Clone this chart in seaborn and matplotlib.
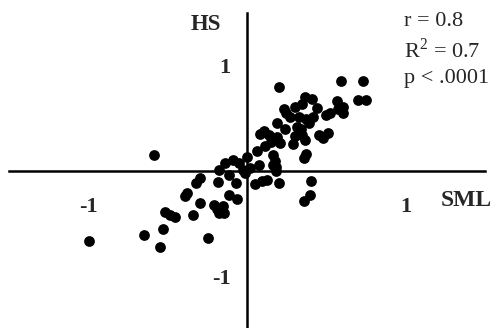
import matplotlib
matplotlib.use("Agg")
import matplotlib.pyplot as plt
import seaborn as sns
import pandas as pd

# values
sml = [-1.0, -0.588, -0.651, -0.548, -0.534, -0.517, -0.487, -0.458, -0.391, -0.378,
       -0.340, -0.324, -0.298, -0.298, -0.248, -0.210, -0.189, -0.181, -0.147, -0.155,
       -0.118, -0.067, -0.185, -0.181, -0.139, -0.118, -0.088, -0.055, -0.071, -0.029,
       -0.015, 0.0, 0.050, 0.059, 0.076, 0.080, 0.105, 0.113, 0.092, 0.122,
       0.134, 0.147, 0.160, 0.176, 0.181, 0.181, 0.197, 0.197, 0.185, 0.189,
       0.206, 0.239, 0.231, 0.244, 0.269, 0.290, 0.303, 0.298, 0.315, 0.324,
       0.336, 0.345, 0.345, 0.361, 0.370, 0.357, 0.357, 0.395, 0.403, 0.366,
       0.370, 0.391, 0.408, 0.412, 0.441, 0.454, 0.479, 0.508, 0.496, 0.521,
       0.563, 0.570, 0.605, 0.605, 0.592, 0.731, 0.698, 0.748, 0.017, 0.164]
hs = [-0.658, 0.152, -0.601, -0.722, -0.544, -0.386, -0.411, -0.430, -0.234, -0.203,
      -0.418, -0.108, -0.066, -0.297, -0.633, -0.316, -0.361, -0.399, -0.399, -0.329,
      -0.222, -0.259, -0.101, 0.013, 0.076, -0.032, 0.108, 0.076, -0.108, 0.013,
      -0.019, 0.139, -0.120, 0.196, 0.063, 0.354, 0.386, 0.241, -0.095, -0.082,
      0.345, 0.278, 0.158, 0.095, 0.038, 0.006, -0.108, 0.797, 0.462, 0.323,
      0.272, 0.399, 0.589, 0.551, 0.519, 0.259, 0.335, 0.608, 0.424, 0.519,
      0.399, 0.342, 0.639, 0.709, 0.165, 0.127, -0.278, -0.222, -0.095, 0.297,
      0.494, 0.456, 0.690, 0.513, 0.601, 0.342, 0.316, 0.367, 0.532, 0.557,
      0.665, 0.595, 0.614, 0.551, 0.854, 0.861, 0.677, 0.677, 0.028, 0.057]
tick_vals = [-1, 1]
tick_labels = ["-1", "1"]
stats_lines = ["r = 0.8", "R$^2$ = 0.7", "p < .0001"]

sns.set_style("white")
plt.rcParams['font.family'] = ['Liberation Serif', 'DejaVu Serif']
plt.rcParams['mathtext.fontset'] = 'custom'
plt.rcParams['mathtext.rm'] = 'Liberation Serif'

df = pd.DataFrame({'SML': sml, 'HS': hs})

fig = plt.figure(figsize=(4.95, 3.28), dpi=100)
ax = fig.add_axes([0.0187, 0.0027, 0.962, 0.957])
sns.scatterplot(data=df, x='SML', y='HS', color='black', s=60, linewidth=0, ax=ax, clip_on=False)

ax.set_xlim(-1.5, 1.5)
ax.set_ylim(-1.48, 1.5)
for side in ['top', 'right']:
    ax.spines[side].set_visible(False)
ax.spines['left'].set_position(('data', 0))
ax.spines['bottom'].set_position(('data', 0))
for side in ['left', 'bottom']:
    ax.spines[side].set_linewidth(1.8)
    ax.spines[side].set_color('black')

ax.set_xticks(tick_vals)
ax.set_xticklabels(tick_labels)
ax.set_yticks(tick_vals)
ax.set_yticklabels(tick_labels)
ax.tick_params(axis='x', direction='out', length=8.5, width=1.8, pad=10, labelsize=16)
ax.tick_params(axis='y', direction='out', length=10, width=1.8, pad=2, labelsize=16)
for lab in ax.get_xticklabels() + ax.get_yticklabels():
    lab.set_fontweight('bold')
ax.set_xlabel('')
ax.set_ylabel('')

fig.text(206 / 495, 1 - 25 / 328, 'HS', ha='center', va='center', fontsize=16.5, fontweight='bold')
fig.text(466 / 495, 1 - 200 / 328, 'SML', ha='center', va='center', fontsize=17, fontweight='bold')
for i, line in enumerate(stats_lines):
    fig.text(404 / 495, 1 - (22 + 28.5 * i) / 328, line, ha='left', va='center', fontsize=16)

fig.savefig('out.png', dpi=100)
